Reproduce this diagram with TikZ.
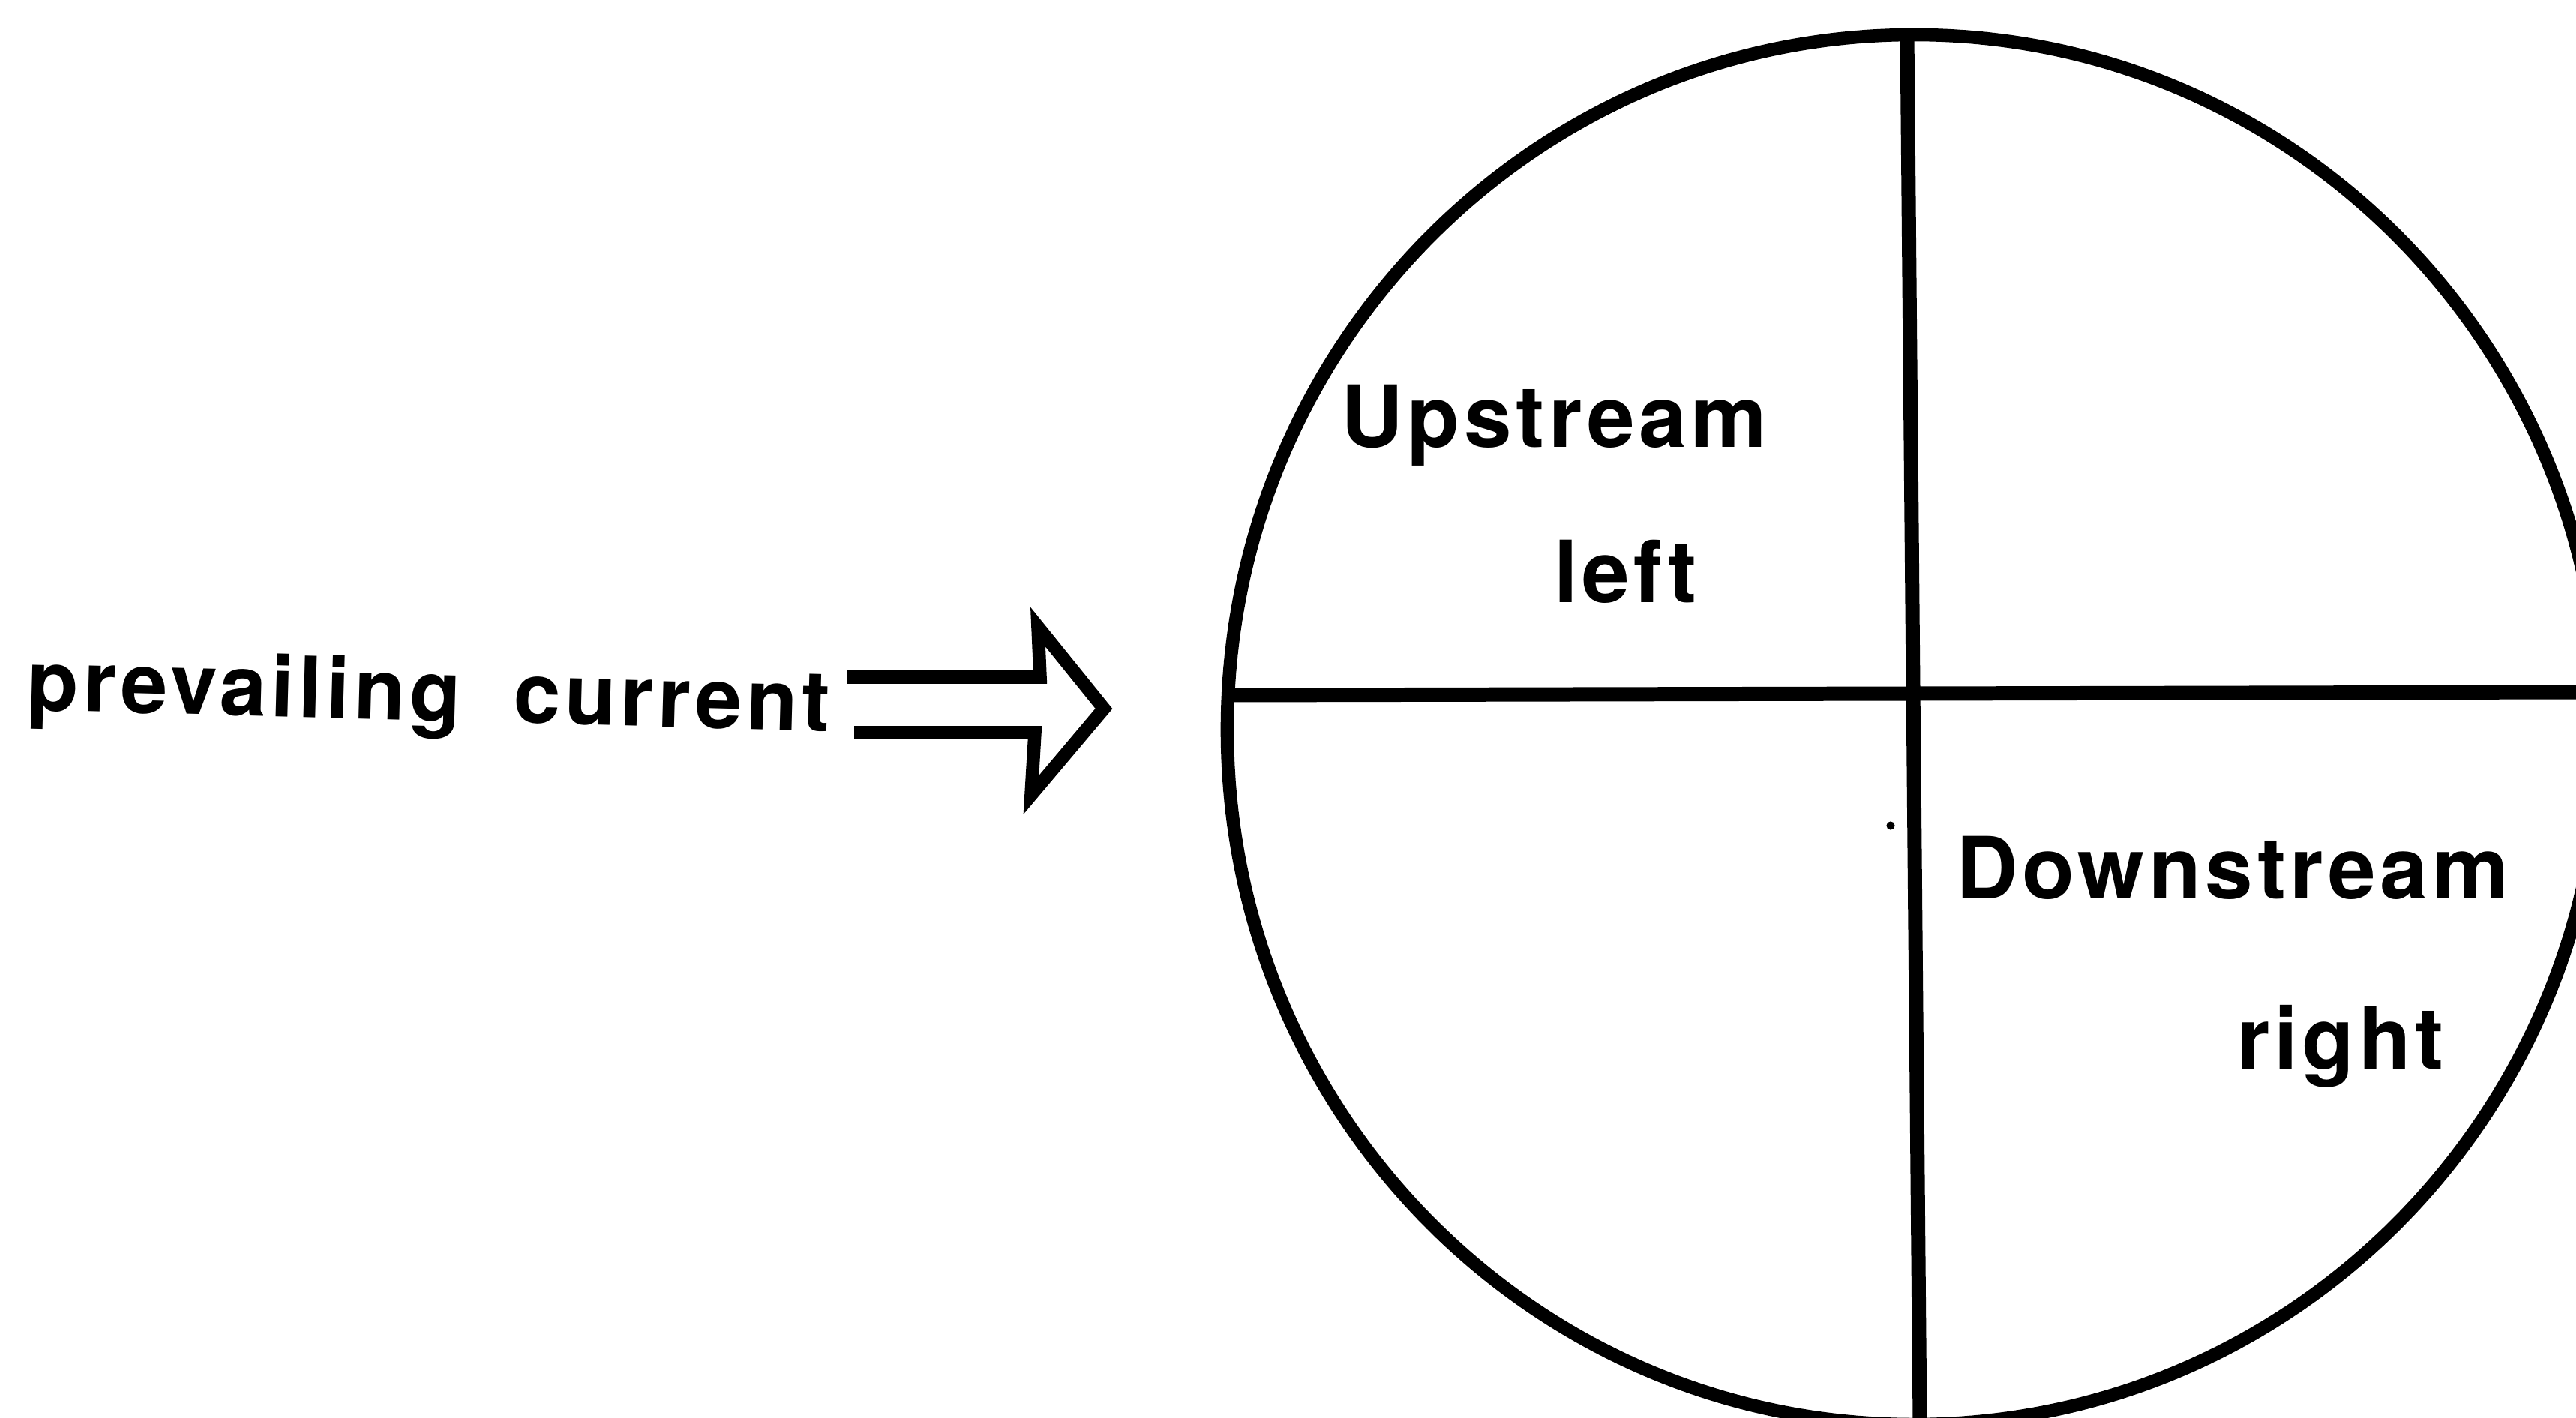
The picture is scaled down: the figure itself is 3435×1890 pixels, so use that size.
\documentclass[tikz,border=0pt]{standalone}
\usepackage{fontspec}
\newfontfamily\labfont{TeX Gyre Heros}[LetterSpace=5.0]
\begin{document}
\begin{tikzpicture}[x=0.01cm,y=-0.01cm,
  lab/.style={inner sep=0pt, outer sep=0pt, font=\labfont\bfseries\fontsize{32.5}{39}\selectfont},
  rim/.style={line width=5pt},
  divider/.style={line width=5.4pt},
  outline/.style={line width=5pt, line join=miter, miter limit=10}]
\useasboundingbox (0,0) rectangle (3435,1890);
\clip (0,0) rectangle (3435,1890);
% circle and dividers
\draw[rim] (2552,973) ellipse [x radius=9.15cm, y radius=9.26cm];
\coordinate (vtop) at (2543,47);
\coordinate (vbot) at (2560,1895);
\coordinate (hleft) at (1638,927);
\coordinate (hright) at (3440,923);
\draw[divider] (vtop) -- (vbot);
\draw[divider] (hleft) -- (hright);
\fill (2521,1101) circle (1.6pt);
% labels
\node[lab, anchor=base west] (up) at (1788,596) {Upstream};
\node[lab, anchor=base west] (lf) at (2072,803) {left};
\node[lab, anchor=base west] (down) at (2608,1198) {Downstream};
\node[lab, anchor=base west] (rt) at (2982,1425) {right};
\node[lab, anchor=base west, rotate=-1.5, font=\labfont\bfseries\fontsize{32}{38}\selectfont] (cur) at (36,947) {prevailing\hspace{0.62em}current};
% arrow
\coordinate (a1) at (1129,903);
\coordinate (a2) at (1387,903);
\coordinate (a3) at (1384,836);
\coordinate (a4) at (1472,945);
\coordinate (a5) at (1375,1060);
\coordinate (a6) at (1380,977);
\coordinate (a7) at (1139,977);
\draw[outline] (a1) -- (a2) -- (a3) -- (a4) -- (a5) -- (a6) -- (a7);
\end{tikzpicture}
\end{document}
